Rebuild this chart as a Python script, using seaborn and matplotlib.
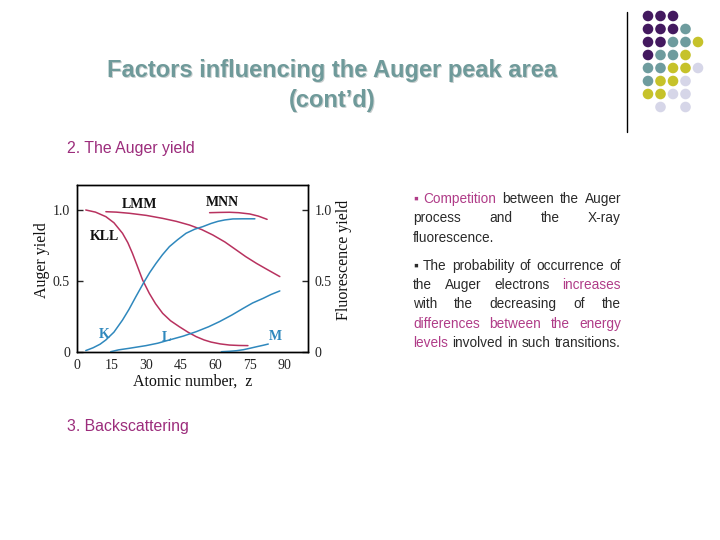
import matplotlib
matplotlib.use("Agg")
import matplotlib.pyplot as plt
from matplotlib.patches import Circle
import seaborn as sns
import pandas as pd

# ---------------- data ----------------
kll_z = [3.8, 8, 12.5, 16, 19.7, 22, 24, 26, 28.4, 31.3, 34, 37.1, 40.5, 44.3, 48, 51.6, 55, 58, 62, 66, 70, 74]
kll_y = [1.0, 0.985, 0.953, 0.91, 0.836, 0.77, 0.695, 0.61, 0.507, 0.413, 0.34, 0.272, 0.22, 0.178, 0.14, 0.108, 0.085, 0.07, 0.057, 0.049, 0.046, 0.045]

lmm_z = [12.5, 17, 22.6, 30, 37.1, 43, 48.7, 54, 58.8, 64, 69, 73, 77.7, 82, 87.8]
lmm_y = [0.988, 0.985, 0.977, 0.962, 0.941, 0.92, 0.894, 0.862, 0.824, 0.775, 0.718, 0.672, 0.624, 0.584, 0.531]

mnn_z = [57.4, 62, 66, 70, 74.8, 78.5, 82.3]
mnn_y = [0.981, 0.983, 0.984, 0.981, 0.972, 0.957, 0.934]

k_z = [3.8, 7, 10, 12.5, 16, 19.7, 22.5, 25.5, 29.1, 31.5, 34.2, 37, 40, 43.5, 47.2, 51, 54.5, 58, 61, 64, 67.5, 72, 77]
k_y = [0.01, 0.03, 0.055, 0.085, 0.14, 0.225, 0.3, 0.39, 0.495, 0.56, 0.624, 0.685, 0.742, 0.79, 0.836, 0.865, 0.883, 0.905, 0.92, 0.93, 0.937, 0.938, 0.938]

l_z = [14.6, 18, 22.6, 29.9, 35, 40, 46, 51.6, 57, 61.7, 67, 71.9, 76, 80.6, 84, 87.8]
l_y = [0.002, 0.015, 0.026, 0.045, 0.062, 0.085, 0.112, 0.143, 0.178, 0.214, 0.26, 0.307, 0.345, 0.378, 0.405, 0.43]

m_z = [62.5, 66, 69, 72, 74.8, 78, 80.5, 82.8]
m_y = [0.002, 0.005, 0.009, 0.016, 0.026, 0.038, 0.047, 0.056]

x_ticks = [0, 15, 30, 45, 60, 75, 90]
y_ticks = [0, 0.5, 1.0]
y_ticklabels = ["0", "0.5", "1.0"]

auger_labels = ["KLL", "LMM", "MNN"]
fluor_labels = ["K", "L", "M"]

# ---------------- style ----------------
sns.set_style("white")
RED = "#b8325f"
BLUE = "#2f88bd"
MAG = "#b03c88"
SANS = ["Liberation Sans", "DejaVu Sans"]
SERIF = ["Liberation Serif", "DejaVu Serif"]

fig = plt.figure(figsize=(7.2, 5.4), dpi=100)
fig.patch.set_facecolor("white")

# background overlay in pixel coordinates
bg = fig.add_axes([0, 0, 1, 1])
bg.set_xlim(0, 720)
bg.set_ylim(540, 0)
bg.axis("off")

# title with shadow
for dx, col in [(1.5, "#c9cfcf"), (0, "#6f9a9a")]:
    bg.text(332 + dx, 70 + dx, "Factors influencing the Auger peak area", ha="center", va="center",
            fontsize=17, fontweight="bold", color=col, family=SANS)
    bg.text(332 + dx, 100 + dx, "(cont\u2019d)", ha="center", va="center",
            fontsize=17, fontweight="bold", color=col, family=SANS)

bg.text(67, 148, "2. The Auger yield", ha="left", va="center", fontsize=11.4, color="#9c2d7c", family=SANS)
bg.text(67, 426, "3. Backscattering", ha="left", va="center", fontsize=11.4, color="#9c2d7c", family=SANS)

# vertical rule and dot grid
bg.plot([627, 627], [12, 132], color="black", lw=1.0)
P, T, Y, L = "#43195f", "#6e9c9e", "#c6c22a", "#d6d6e8"
grid = [
    [P, P, P, None, None],
    [P, P, P, T, None],
    [P, P, T, T, Y],
    [P, T, T, Y, None],
    [T, T, Y, Y, L],
    [T, Y, Y, L, None],
    [Y, Y, L, L, None],
    [None, L, None, L, None],
]
col_x = [648, 660.5, 673, 685.5, 698]
row_y = [16, 29, 42, 55, 68, 81, 94, 107]
for r, row in enumerate(grid):
    for c, colr in enumerate(row):
        if colr:
            bg.add_patch(Circle((col_x[c], row_y[r]), 5.3, color=colr, lw=0))

# justified body text
renderer = fig.canvas.get_renderer()
BODY = 9.8
K = "#2a2a2a"
lines = [
    ([("\u25aa", MAG), ("Competition", MAG), ("between", K), ("the", K), ("Auger", K)], 199, True),
    ([("process", K), ("and", K), ("the", K), ("X-ray", K)], 218, True),
    ([("fluorescence.", K)], 238, False),
    ([("\u25aa", K), ("The", K), ("probability", K), ("of", K), ("occurrence", K), ("of", K)], 266, True),
    ([("the", K), ("Auger", K), ("electrons", K), ("increases", MAG)], 285, True),
    ([("with", K), ("the", K), ("decreasing", K), ("of", K), ("the", K)], 304, True),
    ([("differences", MAG), ("between", MAG), ("the", MAG), ("energy", MAG)], 324, True),
    ([("levels", MAG), ("involved", K), ("in", K), ("such", K), ("transitions.", K)], 343, True),
]
LEFT, RIGHT = 413, 621
t1 = bg.text(0, 0, "a a", fontsize=BODY, family=SANS)
t2 = bg.text(0, 0, "aa", fontsize=BODY, family=SANS)
space_w = t1.get_window_extent(renderer).width - t2.get_window_extent(renderer).width
t1.remove(); t2.remove()
for segs, y, just in lines:
    ts = [bg.text(0, y, w, color=c, fontsize=BODY, family=SANS, ha="left", va="center") for w, c in segs]
    ws = [t.get_window_extent(renderer).width for t in ts]
    if just and len(ts) > 1:
        gap = (RIGHT - LEFT - sum(ws)) / (len(ts) - 1)
    else:
        gap = space_w
    x = LEFT
    for t, w in zip(ts, ws):
        t.set_x(x)
        x += w + gap

# ---------------- chart ----------------
ax = fig.add_axes([77 / 720, 1 - 352 / 540, 231 / 720, 167 / 540])
ax2 = ax.twinx()

for zz, yy in [(kll_z, kll_y), (lmm_z, lmm_y), (mnn_z, mnn_y)]:
    sns.lineplot(x=zz, y=yy, ax=ax, color=RED, lw=1.1, sort=False)
for zz, yy in [(k_z, k_y), (l_z, l_y), (m_z, m_y)]:
    sns.lineplot(x=zz, y=yy, ax=ax2, color=BLUE, lw=1.1, sort=False)

for a in (ax, ax2):
    a.set_xlim(0, 100)
    a.set_ylim(0, 1.176)
    for s in a.spines.values():
        s.set_color("black")
        s.set_linewidth(1.0)

ax.set_xticks(x_ticks)
ax.set_xticklabels([str(v) for v in x_ticks], family=SERIF, fontsize=10, color="#222222")
ax.set_yticks(y_ticks)
ax.set_yticklabels(y_ticklabels, family=SERIF, fontsize=10, color="#222222")
ax2.set_yticks(y_ticks)
ax2.set_yticklabels(y_ticklabels, family=SERIF, fontsize=10, color="#222222")
ax.tick_params(axis="both", direction="in", length=4, width=1, pad=5)
ax2.tick_params(axis="y", direction="in", length=4, width=1, pad=5)

ax.set_xlabel("Atomic number,  z", family=SERIF, fontsize=11.5, labelpad=1, color="#111111")
ax.set_ylabel("Auger yield", family=SERIF, fontsize=11.5, color="#111111")
ax2.set_ylabel("Fluorescence yield", family=SERIF, fontsize=11.5, color="#111111")
ax.yaxis.set_label_coords(-0.115, 0.55)
ax2.yaxis.set_label_coords(1.12, 0.55)

lab_pos_a = [(11.7, 0.81), (27, 1.042), (63, 1.05)]
for name, (xx, yy) in zip(auger_labels, lab_pos_a):
    ax.text(xx, yy, name, ha="center", va="center", fontsize=10, fontweight="bold", family=SERIF, color="#111111")
lab_pos_f = [(11.7, 0.12), (38.7, 0.10), (85.7, 0.106)]
for name, (xx, yy) in zip(fluor_labels, lab_pos_f):
    ax2.text(xx, yy, name, ha="center", va="center", fontsize=10, fontweight="bold", family=SERIF, color=BLUE)

fig.savefig("out.png", dpi=100, facecolor="white")
